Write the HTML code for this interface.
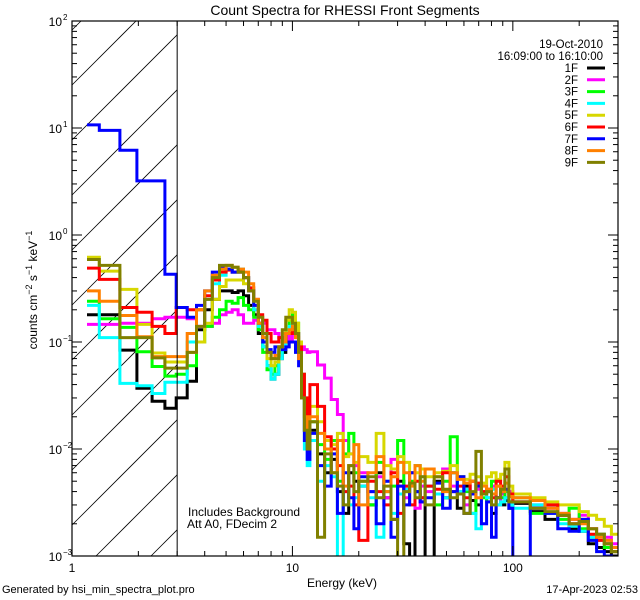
<!DOCTYPE html>
<html><head><meta charset="utf-8">
<style>
html,body{margin:0;padding:0;background:#fff;width:640px;height:600px;overflow:hidden;}
svg{display:block;font-family:"Liberation Sans",sans-serif;}
</style></head>
<body>
<svg id="chart" width="640" height="600" viewBox="0 0 640 600" xmlns="http://www.w3.org/2000/svg">
<rect x="0" y="0" width="640" height="600" fill="#fff"/>
<text x="345" y="15" font-size="14" text-anchor="middle">Count Spectra for RHESSI Front Segments</text>
<defs><clipPath id="plotclip"><rect x="72" y="21" width="546" height="535"/></clipPath></defs>
<g id="hatch"></g>
<g id="series" clip-path="url(#plotclip)"></g>
<g id="axes"></g>
<g id="legend"></g>
<text x="188" y="516" font-size="12">Includes Background</text>
<text x="187" y="528" font-size="12">Att A0, FDecim 2</text>
<text x="342" y="587" font-size="12" text-anchor="middle">Energy (keV)</text>
<text transform="translate(37,290) rotate(-90)" font-size="12" text-anchor="middle">counts cm<tspan font-size="9" dy="-5">−2</tspan><tspan dy="5"> s</tspan><tspan font-size="9" dy="-5">−1</tspan><tspan dy="5"> keV</tspan><tspan font-size="9" dy="-5">−1</tspan></text>
<text x="2" y="593" font-size="11">Generated by hsi_min_spectra_plot.pro</text>
<text x="638" y="593" font-size="11" text-anchor="end">17-Apr-2023 02:53</text>
</svg>
<script>
const edges = [1.17,1.33,1.65,1.97,2.31,2.64,2.97,3.33,3.67,4.0,4.33,4.67,5.0,5.33,5.67,6.0,6.33,6.67,7.0,7.33,7.67,8.0,8.33,8.67,9.0,9.33,9.67,10.0,10.33,10.67,11.0,11.33,11.67,12,13,14,15,16,17,18,19,20,22,24,26,28,30,32,34,36,38,40,44,48,52,56,60,64,68,72,76,80,84,88,92,96,100,120,140,160,180,200,220,240,260,280,300];
const seriesNames = ["1F","2F","3F","4F","5F","6F","7F","8F","9F"];
const seriesColors = ["#000000","#ff00ff","#00ff00","#00ffff","#d7d700","#ff0000","#0000ff","#ff8000","#808000"];
const s1F = [0.18,0.18,0.084,0.037,0.028,0.024, 0.03,0.043,0.13,0.2,0.25,0.3,0.3,0.29,0.3,0.27,0.22,0.18,0.12,0.09,0.06,0.045,0.05,0.07,0.08,0.1,0.12,0.14,0.12,0.08,0.03,0.015,0.01, .015,.009,.006,.008,.004,.0025,.006,.005, .0045,.003,.006,.0035,.0022,.005,.0013,.0009,.004,.0032, .0008,.005,.0035,.006,.0028,.0045,.0033,.003,.0038,.004,.0025,.0035,.003,.0033,.0028, .0031,.0026,.0022,.0024,.0018,.0017,.0013,.0012,.0011,.0010];
const s2F = [0.146,0.146,0.15,0.15,0.165,0.17, 0.17,0.165,0.14,0.14,0.15,0.18,0.19,0.2,0.18,0.15,0.15,0.16,0.15,0.15,0.13,0.13,0.12,0.11,0.12,0.12,0.1,0.12,0.11,0.1,0.09,0.085,0.08, .081,.061,.046,.029,.021,.012,.009,.007, .006,.004,.0055,.0035,.008,.0045,.0035,.006,.0028,.0045, .004,.0038,.0065,.0045,.004,.003,.005,.0042,.004,.0035,.0045,.003,.0038,.0035,.004, .0032,.003,.0028,.0025,.0022,.0024,.0018,.0016,.0015,.0013];
const s3F = [0.24,0.165,0.137,0.081,0.059,0.048, 0.05,0.06,0.1,0.14,0.17,0.2,0.24,0.23,0.26,0.22,0.2,0.17,0.13,0.08,0.055,0.05,0.06,0.08,0.1,0.13,0.16,0.18,0.15,0.1,0.05,0.02,0.012, .018,.011,.008,.012,.005,.009,.014,.006, .005,.003,.0075,.004,.0045,.012,.004,.005,.007,.0035, .0045,.003,.005,.013,.0055,.004,.0025,.0045,.0035,.0032,.005,.0045,.0035,.004,.0032, .0035,.0025,.003,.0022,.0028,.0018,.0015,.0016,.0012,.0011];
const s4F = [0.22,0.11,0.041,0.039,0.033,0.042, 0.042,0.1,0.2,0.25,0.35,0.42,0.48,0.45,0.48,0.4,0.3,0.2,0.14,0.09,0.06,0.045,0.05,0.07,0.09,0.12,0.14,0.15,0.12,0.08,0.03,0.01,0.007, .012,.005,.007,.0055,.0008,.004,.003,.0035, .0045,.0035,.0015,.005,.0025,.0038,.0042,.003,.004,.0055, .0045,.0038,.0035,.006,.004,.0042,.0025,.0018,.0038,.0035,.0042,.003,.0032,.0035,.003, .0028,.003,.0025,.002,.0019,.0017,.0015,.0014,.0013,.0012];
const s5F = [0.62,0.46,0.31,0.146,0.079,0.065, 0.065,0.08,0.1,0.15,0.25,0.33,0.38,0.38,0.38,0.35,0.3,0.22,0.15,0.1,0.07,0.06,0.065,0.09,0.12,0.16,0.2,0.19,0.15,0.1,0.04,0.02,0.015, .025,.018,.012,.011,.014,.0085,.009,.0075, .0085,.0075,.014,.007,.0065,.0085,.0075,.006,.006,.0065, .0055,.006,.0062,.007,.0055,.0052,.0058,.0055,.0048,.0055,.006,.0052,.0058,.0075,.0045, .0038,.0035,.0032,.003,.003,.0026,.0024,.0022,.0019,.0016];
const s6F = [0.49,0.385,0.21,0.19,0.14,0.12, 0.21,0.2,0.2,0.27,0.38,0.45,0.47,0.45,0.45,0.4,0.32,0.25,0.18,0.16,0.12,0.1,0.1,0.11,0.1,0.12,0.12,0.13,0.12,0.09,0.05,0.03,0.02, .04,.025,.013,.01,.007,.004,.0045,.003, .0014,.005,.004,.003,.006,.0025,.0045,.003,.005,.0035, .0045,.0042,.006,.004,.0045,.0035,.005,.0048,.004,.0042,.0035,.005,.0045,.0055,.0038, .0032,.0028,.003,.0024,.002,.0022,.0016,.0014,.0013,.0011];
const s7F = [10.7,9.5,6.2,3.2,3.2,0.43, 0.21,0.17,0.22,0.3,0.45,0.5,0.48,0.45,0.45,0.4,0.3,0.22,0.15,0.1,0.085,0.08,0.09,0.09,0.085,0.09,0.1,0.1,0.08,0.06,0.03,0.012,0.008, .014,.007,.0045,.009,.0025,.006,.0035,.0018, .0055,.004,.002,.005,.0015,.0045,.003,.006,.004,.0032, .0035,.0048,.0028,.004,.0055,.0025,.0038,.0045,.002,.0032,.0015,.0035,.004,.0042,.0028, .0006,.0028,.0025,.0018,.0017,.0022,.0014,.0011,.0010,.0009];
const s8F = [0.30,0.24,0.177,0.112,0.073,0.073, 0.073,0.12,0.2,0.3,0.42,0.48,0.52,0.5,0.48,0.45,0.35,0.25,0.15,0.11,0.08,0.07,0.075,0.09,0.1,0.12,0.13,0.14,0.11,0.07,0.03,0.02,0.015, .02,.014,.01,.006,.012,.0045,.007,.011, .003,.006,.0085,.004,.0055,.0075,.006,.0045,.007,.005, .0065,.0055,.004,.006,.0052,.0048,.005,.0035,.0045,.0042,.0038,.0045,.004,.0048,.0036, .0035,.0033,.0028,.0025,.0022,.002,.0018,.0015,.0014,.0012];
const s9F = [0.59,0.52,0.11,0.11,0.071,0.057, 0.057,0.08,0.14,0.25,0.4,0.52,0.52,0.5,0.45,0.4,0.3,0.24,0.17,0.12,0.08,0.07,0.07,0.09,0.13,0.17,0.17,0.15,0.12,0.08,0.03,0.015,0.01, .018,.0015,.009,.006,.0045,.003,.007,.004, .005,.0055,.0035,.0045,.0022,.0009,.004,.0048,.0035,.0055, .003,.0055,.0042,.0035,.0038,.0025,.004,.0095,.0038,.004,.003,.0035,.0042,.0065,.0032, .0032,.0028,.0026,.0024,.002,.0021,.0018,.0016,.0013,.0011];
const seriesValues = [s1F,s2F,s3F,s4F,s5F,s6F,s7F,s8F,s9F];
const xMajorTicks = [1,10,100];
const xMajorLabels = ["1","10","100"];
const xMinorTicks = [2,3,4,5,6,7,8,9,20,30,40,50,60,70,80,90,200,300];
const yMajorExp = [-3,-2,-1,0,1,2];
const yMinorMult = [2,3,4,5,6,7,8,9];
const legendDate = "19-Oct-2010";
const legendTime = "16:09:00 to 16:10:00";

const NS = "http://www.w3.org/2000/svg";
const L = 72, R = 618, T = 21, B = 556;
const XMIN = 0, XMAX = Math.log10(300), YMIN = -3, YMAX = 2;
function xs(e){ return L + (Math.log10(e) - XMIN) / (XMAX - XMIN) * (R - L); }
function ys(v){ const lv = Math.max(Math.log10(Math.max(v, 1e-6)), YMIN - 0.02); return B - (lv - YMIN) / (YMAX - YMIN) * (B - T); }
function mk(tag, attrs, parent){ const el = document.createElementNS(NS, tag); for (const k in attrs) el.setAttribute(k, attrs[k]); parent.appendChild(el); return el; }

// hatch lines clipped manually to the region [L, x3] x [T, B]
const hatch = document.getElementById('hatch');
const x3 = xs(3);
for (let k = -10; k < 12; k++) {
  const y0 = 85 + k * 55; // y at x = L; line y = y0 - (x - L)
  let xa = L, xb = x3;
  xa = Math.max(xa, L + (y0 - B));
  xb = Math.min(xb, L + (y0 - T));
  if (xb <= xa) continue;
  const ln = mk('line', {x1: xa, y1: y0 - (xa - L), x2: xb, y2: y0 - (xb - L), stroke: '#000', 'stroke-width': 0.8}, hatch);
  
  
}
const bnd = mk('line', {x1: x3, y1: T, x2: x3, y2: B, stroke: '#000', 'stroke-width': 1}, document.getElementById('axes'));



const sg = document.getElementById('series');
seriesValues.forEach((vals, si) => {
  const n = Math.min(vals.length, edges.length - 1);
  let d = '';
  for (let i = 0; i < n; i++) {
    const xa = xs(edges[i]), xb = xs(edges[i + 1]), y = ys(vals[i]);
    d += (i === 0 ? 'M' : 'L') + xa.toFixed(1) + ',' + y.toFixed(1) + 'L' + xb.toFixed(1) + ',' + y.toFixed(1);
  }
  const p = mk('path', {d: d, fill: 'none', stroke: seriesColors[si], 'stroke-width': 3, 'stroke-linejoin': 'miter'}, sg);
  
  
});

const ax = document.getElementById('axes');
const frame = mk('rect', {x: L, y: T, width: R - L, height: B - T, fill: 'none', stroke: '#000', 'stroke-width': 1.2}, ax);


xMajorTicks.forEach((e, i) => {
  const x = xs(e);
  const t1 = mk('line', {x1: x, y1: B, x2: x, y2: B - 10, stroke: '#000'}, ax);
  
  
  const t2 = mk('line', {x1: x, y1: T, x2: x, y2: T + 10, stroke: '#000'}, ax);
  
  
  const tx = mk('text', {x: x, y: 572, 'font-size': 12, 'text-anchor': 'middle'}, ax);
  tx.textContent = xMajorLabels[i];
  
  
});
xMinorTicks.forEach(e => {
  const x = xs(e);
  if (x > R + 0.5) return;
  const t1 = mk('line', {x1: x, y1: B, x2: x, y2: B - 5, stroke: '#000'}, ax);
  
  
  const t2 = mk('line', {x1: x, y1: T, x2: x, y2: T + 5, stroke: '#000'}, ax);
  
  
});
yMajorExp.forEach(p => {
  const y = ys(Math.pow(10, p));
  const a = mk('line', {x1: L, y1: y, x2: L + 10, y2: y, stroke: '#000'}, ax);
  
  
  const b = mk('line', {x1: R, y1: y, x2: R - 10, y2: y, stroke: '#000'}, ax);
  
  
  const tx = mk('text', {x: 62, y: y + 5, 'font-size': 12, 'text-anchor': 'end'}, ax);
  tx.textContent = '10';
  
  
  const sp = mk('text', {x: 63, y: y - 1, 'font-size': 8}, ax);
  sp.textContent = String(p).replace('-', '−');
  
  
  if (p < 2) yMinorMult.forEach(m => {
    const yy = ys(m * Math.pow(10, p));
    const c = mk('line', {x1: L, y1: yy, x2: L + 5, y2: yy, stroke: '#000'}, ax);
    
    
    const d2 = mk('line', {x1: R, y1: yy, x2: R - 5, y2: yy, stroke: '#000'}, ax);
    
    
  });
});

const lg = document.getElementById('legend');
const dt = mk('text', {x: 603, y: 48, 'font-size': 11.5, 'text-anchor': 'end'}, lg);
dt.textContent = legendDate;


const tt = mk('text', {x: 603, y: 60, 'font-size': 11.5, 'text-anchor': 'end'}, lg);
tt.textContent = legendTime;


seriesNames.forEach((nm, i) => {
  const y = 68 + i * 11.8;
  const g = mk('g', {}, lg);
  
  
  const t = mk('text', {x: 578, y: y + 4, 'font-size': 11.5, 'text-anchor': 'end'}, g);
  t.textContent = nm;
  const l = mk('line', {x1: 587, y1: y, x2: 605, y2: y, stroke: seriesColors[i], 'stroke-width': 3}, g);
  
  
});
</script>
</body></html>
